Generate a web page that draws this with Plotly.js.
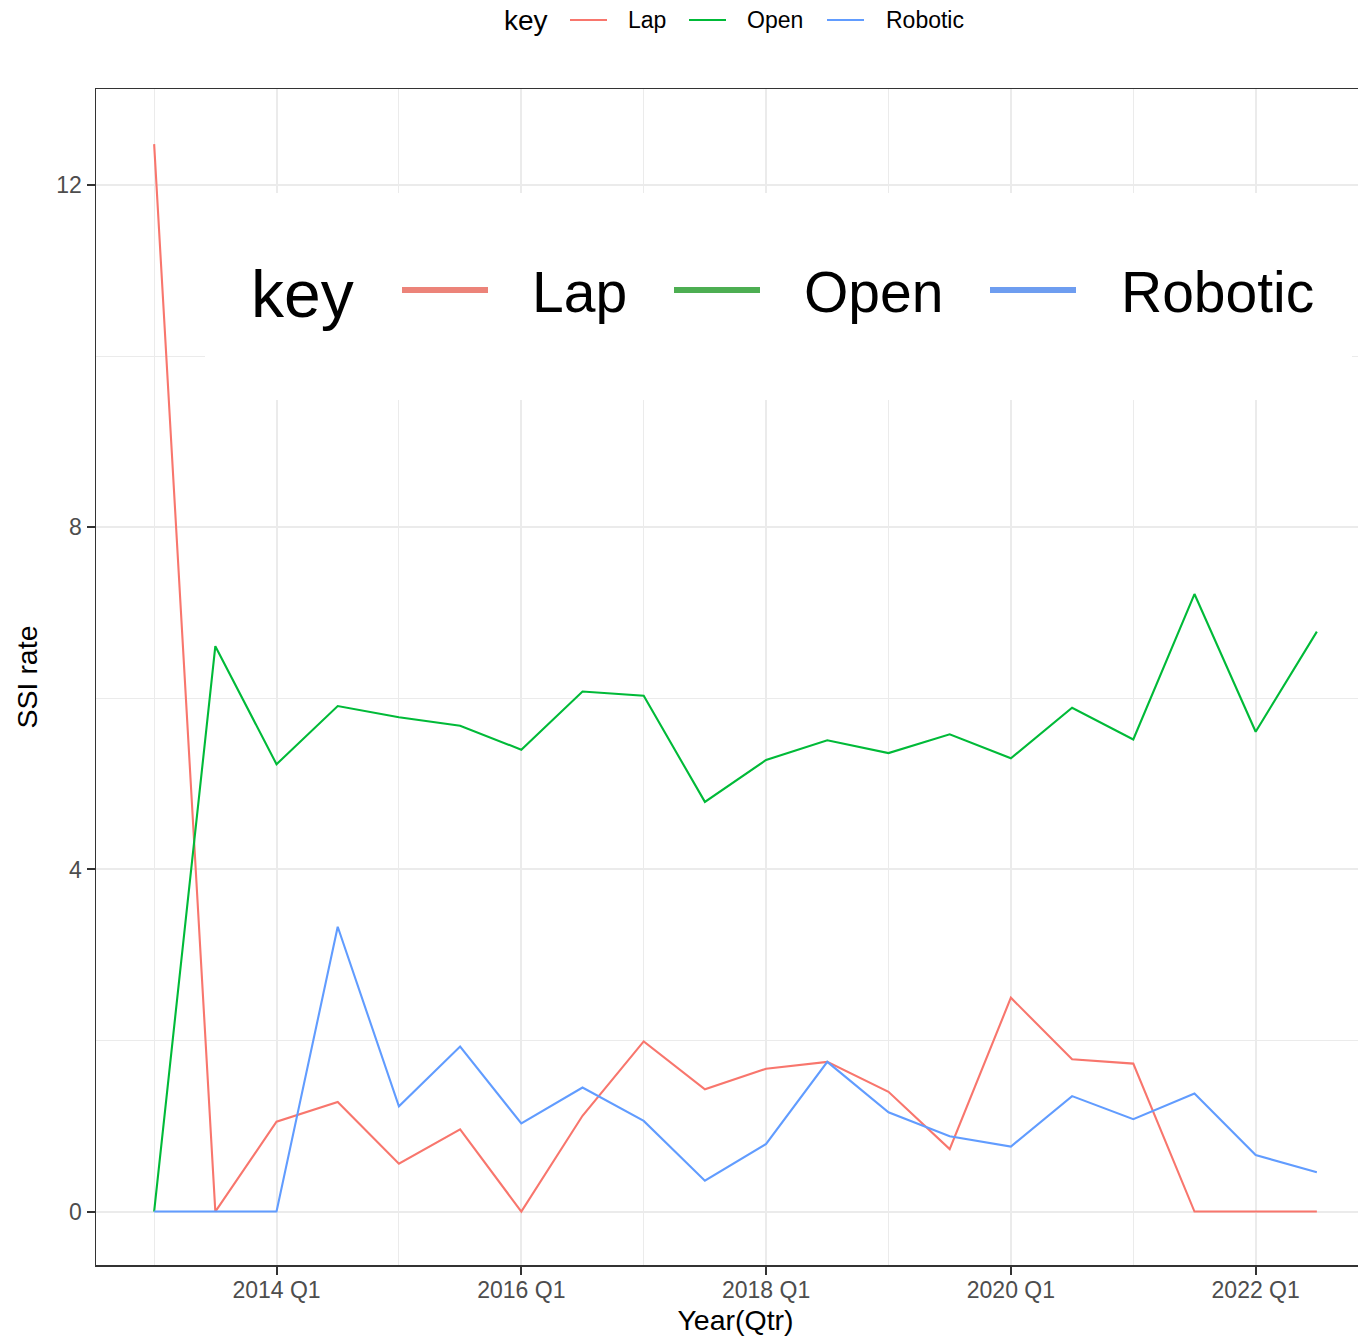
<!DOCTYPE html>
<html>
<head>
<meta charset="utf-8">
<script src="https://cdn.plot.ly/plotly-3.0.1.min.js"></script>
<style>
  html, body { margin: 0; padding: 0; overflow: hidden; background: #fff; }
  #chart { width: 1390px; height: 1340px; }
</style>
</head>
<body>
<div id="chart"></div>
<script>
// ---- data ----
const quarters = ["2013 Q1","2013 Q3","2014 Q1","2014 Q3","2015 Q1","2015 Q3","2016 Q1","2016 Q3","2017 Q1","2017 Q3",
                  "2018 Q1","2018 Q3","2019 Q1","2019 Q3","2020 Q1","2020 Q3","2021 Q1","2021 Q3","2022 Q1","2022 Q3"];
const lapRate     = [12.48, 0, 1.05, 1.28, 0.56, 0.96, 0, 1.12, 1.99, 1.43, 1.67, 1.75, 1.40, 0.73, 2.50, 1.78, 1.73, 0, 0, 0];
const openRate    = [0, 6.61, 5.23, 5.91, 5.78, 5.68, 5.40, 6.08, 6.03, 4.79, 5.28, 5.51, 5.36, 5.58, 5.30, 5.89, 5.52, 7.22, 5.61, 6.78];
const roboticRate = [0, 0, 0, 3.33, 1.23, 1.93, 1.03, 1.45, 1.06, 0.36, 0.79, 1.75, 1.16, 0.88, 0.76, 1.35, 1.08, 1.38, 0.66, 0.46];
const seriesNames = ["Lap", "Open", "Robotic"];
const xTickYears  = [2014, 2016, 2018, 2020, 2022];
const xTickText   = ["2014 Q1", "2016 Q1", "2018 Q1", "2020 Q1", "2022 Q1"];
const yTicks      = [0, 4, 8, 12];

// quarter label -> decimal year
const xVals = quarters.map(q => { const [y, qq] = q.split(" Q"); return +y + (+qq - 1) / 4; });

const colors = ["#F8766D", "#00BA38", "#619CFF"];
const bigColors = ["#EC8379", "#4DAE52", "#6E9DF0"];
const values = [lapRate, openRate, roboticRate];

const traces = seriesNames.map((n, i) => ({
  type: "scatter", mode: "lines", name: n, x: xVals, y: values[i],
  line: { color: colors[i], width: 2.1 }, showlegend: false, hoverinfo: "x+y+name"
}));

// layout geometry (pixels of the page)
const W = 1390, H = 1340, L = 96, R = 15, T = 89, B = 75;
const pw = W - L - R, ph = H - T - B;
const px = x => (x - L) / pw;           // page x -> paper x
const py = y => (H - B - y) / ph;       // page y -> paper y

const FONT = "Liberation Sans, Arial, Helvetica, sans-serif";
const shapes = [];
const annotations = [];

// top legend
const topY = 20;
annotations.push({ xref: "paper", yref: "paper", x: px(502), y: py(topY), xanchor: "left", yanchor: "middle",
  text: "key", showarrow: false, font: { family: FONT, size: 28, color: "#000" } });
const topLines = [[570, 607], [689, 726], [827, 864]];
const topText = [626, 745, 884];
seriesNames.forEach((n, i) => {
  shapes.push({ type: "line", xref: "paper", yref: "paper", x0: px(topLines[i][0]), x1: px(topLines[i][1]),
    y0: py(topY), y1: py(topY), line: { color: colors[i], width: 2 } });
  annotations.push({ xref: "paper", yref: "paper", x: px(topText[i]), y: py(topY), xanchor: "left", yanchor: "middle",
    text: n, showarrow: false, font: { family: FONT, size: 23, color: "#000" } });
});

// big overlaid key panel
shapes.push({ type: "rect", xref: "paper", yref: "paper", x0: px(205), x1: px(1352), y0: py(400), y1: py(193),
  fillcolor: "#FFFFFF", line: { width: 0 }, layer: "above" });
const bigY = 292;
annotations.push({ xref: "paper", yref: "paper", x: px(249), y: py(bigY + 2), xanchor: "left", yanchor: "middle",
  text: "key", showarrow: false, font: { family: FONT, size: 66, color: "#000" } });
const bigLines = [[402, 488], [674, 760], [990, 1076]];
const bigText = [530, 802, 1119];
seriesNames.forEach((n, i) => {
  shapes.push({ type: "line", xref: "paper", yref: "paper", x0: px(bigLines[i][0]), x1: px(bigLines[i][1]),
    y0: py(290), y1: py(290), line: { color: bigColors[i], width: 6 }, layer: "above" });
  annotations.push({ xref: "paper", yref: "paper", x: px(bigText[i]), y: py(bigY), xanchor: "left", yanchor: "middle",
    text: n, showarrow: false, font: { family: FONT, size: 57, color: "#000" } });
});

const layout = {
  width: W, height: H,
  margin: { l: L, r: R, t: T, b: B },
  paper_bgcolor: "#FFFFFF", plot_bgcolor: "#FFFFFF",
  font: { family: FONT, color: "#000" },
  showlegend: false,
  xaxis: {
    range: [2012.525, 2022.975], tickvals: xTickYears, ticktext: xTickText,
    tickfont: { size: 23, color: "#4D4D4D", family: FONT },
    ticks: "outside", ticklen: 8, tickwidth: 2, tickcolor: "#333333",
    ticklabelstandoff: -4,
    showgrid: true, gridcolor: "#EBEBEB", gridwidth: 2,
    minor: { tickvals: [2013, 2015, 2017, 2019, 2021], showgrid: true, gridcolor: "#EBEBEB", gridwidth: 1, ticks: "" },
    showline: true, linecolor: "#333333", linewidth: 1.5, mirror: true, zeroline: false,
    title: { text: "Year(Qtr)", font: { size: 28.5, color: "#000", family: FONT }, standoff: 8 }
  },
  yaxis: {
    range: [-0.625, 13.125], tickvals: yTicks,
    tickfont: { size: 23, color: "#4D4D4D", family: FONT },
    ticks: "outside", ticklen: 8, tickwidth: 2, tickcolor: "#333333",
    showgrid: true, gridcolor: "#EBEBEB", gridwidth: 2,
    minor: { tickvals: [2, 6, 10], showgrid: true, gridcolor: "#EBEBEB", gridwidth: 1, ticks: "" },
    showline: true, linecolor: "#333333", linewidth: 1.5, mirror: true, zeroline: false,
    title: { text: "SSI rate", font: { size: 28.5, color: "#000", family: FONT }, standoff: 10 }
  },
  shapes: shapes,
  annotations: annotations
};

Plotly.newPlot("chart", traces, layout, { displayModeBar: false, staticPlot: true });
</script>
</body>
</html>
